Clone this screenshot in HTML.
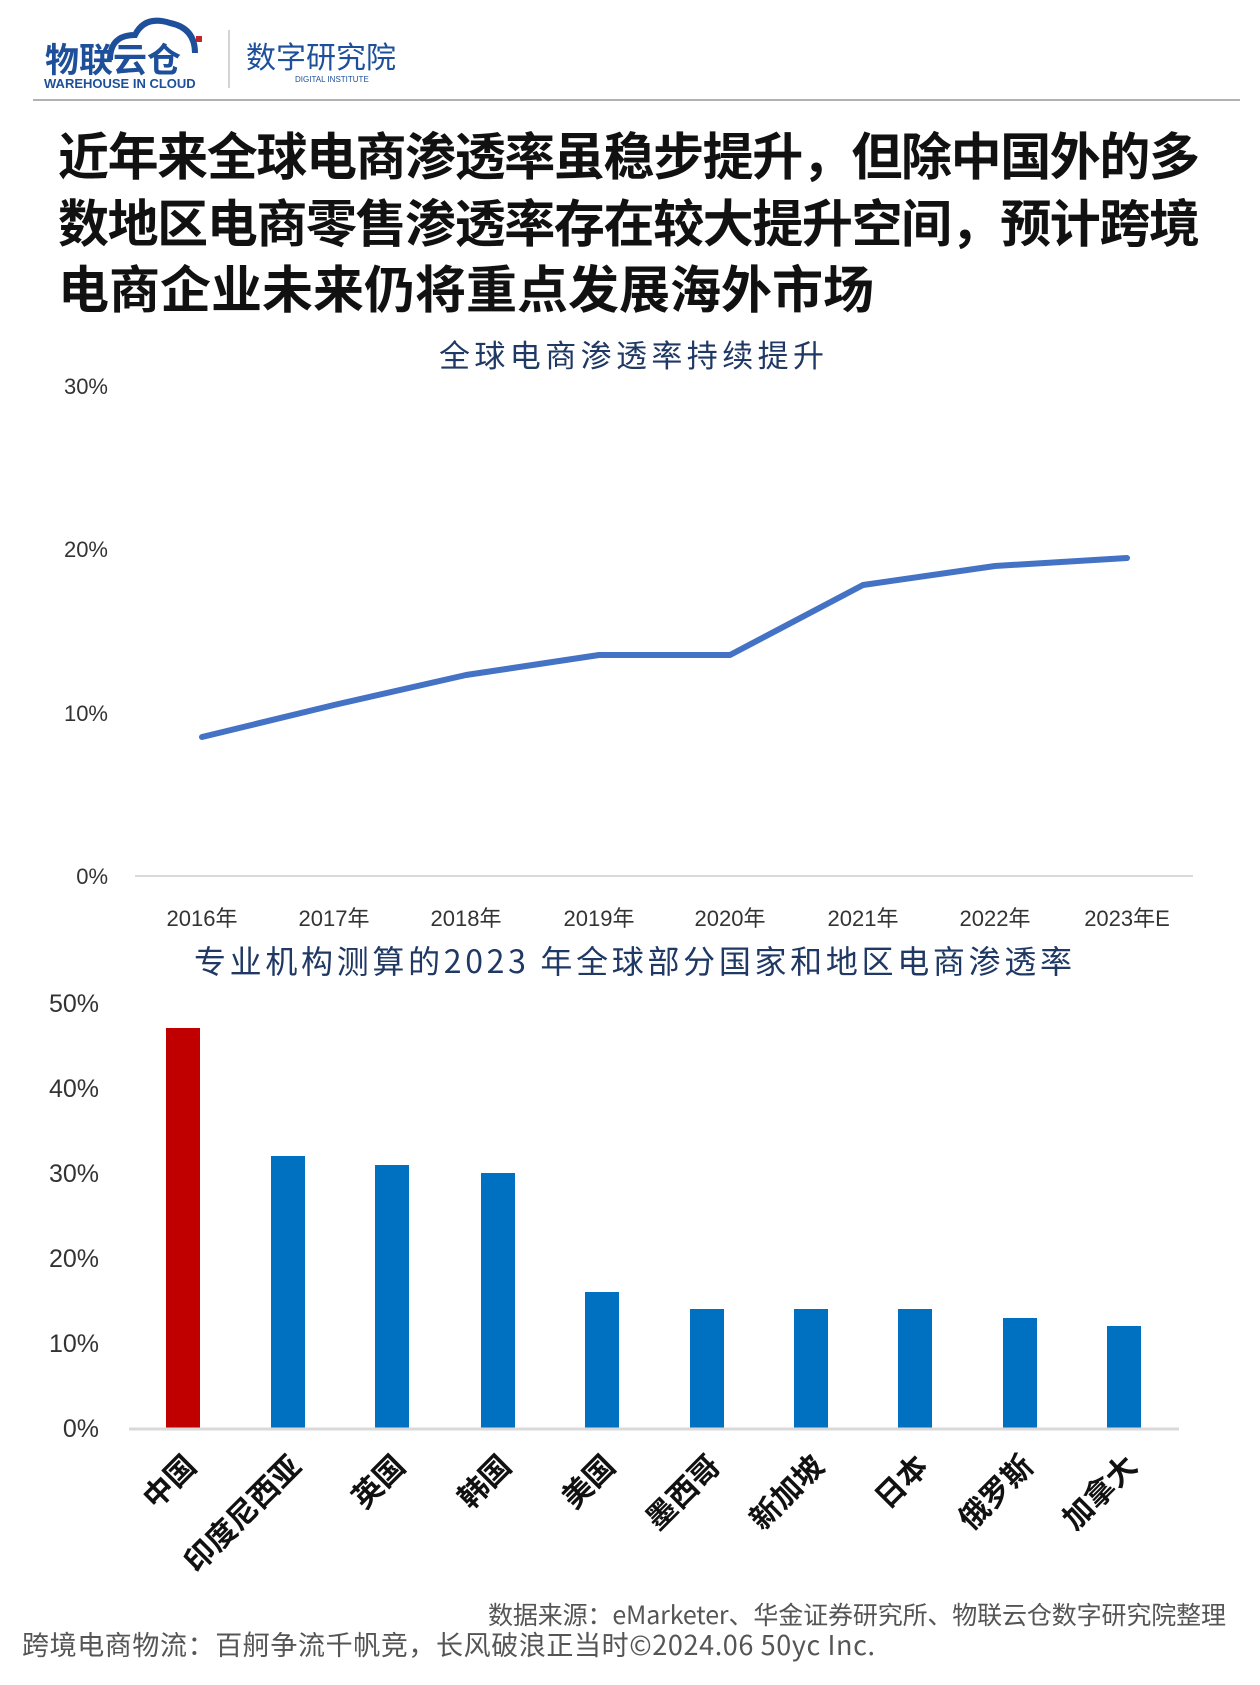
<!DOCTYPE html>
<html><head><meta charset="utf-8"><style>
body{margin:0;width:1260px;height:1680px;background:#fff;overflow:hidden;font-family:"Liberation Sans","Noto Sans CJK SC",sans-serif}
</style></head><body>
<svg width="1260" height="1680" xmlns="http://www.w3.org/2000/svg" font-family="'Liberation Sans','Noto Sans CJK SC',sans-serif">
<path d="M110 60 q0-25 25-25 q10-20 35-12 q25 5 25 30" fill="none" stroke="#1d4f9a" stroke-width="6"/>
<text x="45" y="72" font-size="34" font-weight="bold" fill="#1d4f9a" font-family="'Noto Sans CJK SC',sans-serif">物联云仓</text>
<text x="44" y="88" font-size="13" font-weight="bold" fill="#1d4f9a">WAREHOUSE IN CLOUD</text>
<rect x="196" y="36" width="6" height="6" fill="#c0272d"/>
<line x1="229" y1="30" x2="229" y2="88" stroke="#aaa" stroke-width="1"/>
<text x="246" y="68" font-size="30" fill="#1d4f9a" font-family="'Noto Sans CJK SC',sans-serif">数字研究院</text>
<text x="295" y="82" font-size="8" fill="#1d4f9a">DIGITAL INSTITUTE</text>
<line x1="33" y1="100" x2="1240" y2="100" stroke="#999" stroke-width="1.5"/>
<g font-size="51" font-weight="bold" fill="#111" font-family="'Noto Sans CJK SC',sans-serif">
<text x="58" y="175" textLength="1142">近年来全球电商渗透率虽稳步提升，但除中国外的多</text>
<text x="58" y="242" textLength="1142">数地区电商零售渗透率存在较大提升空间，预计跨境</text>
<text x="58" y="308">电商企业未来仍将重点发展海外市场</text>
</g>
<text x="439" y="367" font-size="31" fill="#1f3864" textLength="385" font-family="'Noto Sans CJK SC',sans-serif">全球电商渗透率持续提升</text>
<g font-size="22" fill="#333" text-anchor="end">
<text x="108" y="394">30%</text><text x="108" y="557">20%</text><text x="108" y="721">10%</text><text x="108" y="884">0%</text>
</g>
<line x1="135" y1="876" x2="1193" y2="876" stroke="#d9d9d9" stroke-width="2"/>
<g font-size="22" fill="#333" text-anchor="middle">
<text x="202" y="926">2016年</text><text x="334" y="926">2017年</text><text x="466" y="926">2018年</text><text x="599" y="926">2019年</text><text x="730" y="926">2020年</text><text x="863" y="926">2021年</text><text x="995" y="926">2022年</text><text x="1127" y="926">2023年E</text>
</g>
<polyline fill="none" stroke="#4472c4" stroke-width="6" stroke-linejoin="round" stroke-linecap="round" points="202,737 334,705 466,675 599,655 730,655 863,585 995,566 1127,558"/>
<text x="194" y="973" font-size="32" fill="#1f3864" textLength="878" font-family="'Noto Sans CJK SC',sans-serif">专业机构测算的2023 年全球部分国家和地区电商渗透率</text>
<g font-size="25" fill="#333" text-anchor="end">
<text x="99" y="1012">50%</text><text x="99" y="1097">40%</text><text x="99" y="1182">30%</text><text x="99" y="1267">20%</text><text x="99" y="1352">10%</text><text x="99" y="1437">0%</text>
</g>
<g fill="#0070c0">
<rect x="166" y="1028" width="34" height="400" fill="#c00000"/>
<rect x="271" y="1156" width="34" height="272"/>
<rect x="375" y="1165" width="34" height="263"/>
<rect x="481" y="1173" width="34" height="255"/>
<rect x="585" y="1292" width="34" height="136"/>
<rect x="690" y="1309" width="34" height="119"/>
<rect x="794" y="1309" width="34" height="119"/>
<rect x="898" y="1309" width="34" height="119"/>
<rect x="1003" y="1318" width="34" height="110"/>
<rect x="1107" y="1326" width="34" height="102"/>
</g>
<line x1="129" y1="1429" x2="1179" y2="1429" stroke="#d9d9d9" stroke-width="3"/>
<g font-size="30" font-weight="bold" fill="#111" text-anchor="end" font-family="'Noto Sans CJK SC',sans-serif">
<text transform="translate(198,1468) rotate(-45)">中国</text>
<text transform="translate(303,1468) rotate(-45)">印度尼西亚</text>
<text transform="translate(407,1468) rotate(-45)">英国</text>
<text transform="translate(513,1468) rotate(-45)">韩国</text>
<text transform="translate(617,1468) rotate(-45)">美国</text>
<text transform="translate(722,1468) rotate(-45)">墨西哥</text>
<text transform="translate(826,1468) rotate(-45)">新加坡</text>
<text transform="translate(930,1468) rotate(-45)">日本</text>
<text transform="translate(1035,1468) rotate(-45)">俄罗斯</text>
<text transform="translate(1139,1468) rotate(-45)">加拿大</text>
</g>
<text x="488" y="1624" font-size="25" fill="#555" textLength="738" font-family="'Noto Sans CJK SC',sans-serif">数据来源：eMarketer、华金证券研究所、物联云仓数字研究院整理</text>
<text x="22" y="1655" font-size="27" fill="#555" textLength="853" font-family="'Noto Sans CJK SC',sans-serif">跨境电商物流：百舸争流千帆竞，长风破浪正当时©2024.06 50yc Inc.</text>
</svg>
</body></html>
